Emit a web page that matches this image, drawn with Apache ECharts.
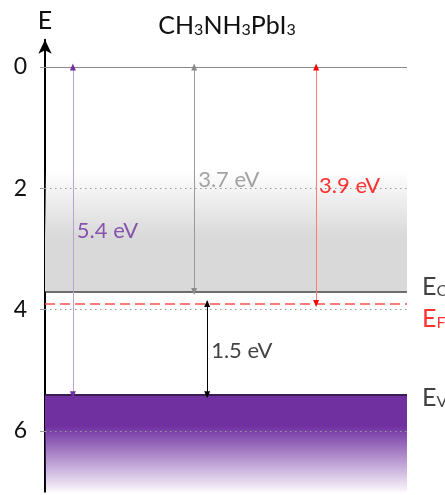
<!DOCTYPE html>
<html>
<head>
<meta charset="utf-8">
<script src="https://cdn.jsdelivr.net/npm/echarts@6/dist/echarts.min.js"></script>
<style>
  html, body { margin: 0; padding: 0; background: #fff; }
  #chart { width: 445px; height: 495px; }
</style>
</head>
<body>
<div id="chart"></div>
<script>
// Energy levels of CH3NH3PbI3 (eV below vacuum level, axis pointing up = 0)
const yTicks = [0, 2, 4, 6];
const levelNames = ['C', 'F', 'V'];          // subscripts of E_C, E_F, E_V
const levelEnergies = [3.7, 3.9, 5.4];       // conduction band, Fermi level, valence band
const vacuumLevel = 0;

// Double arrows: start and end energy (label = end - start)
const arrowFrom = [0, 0, 0, 3.9];
const arrowTo = [5.4, 3.7, 3.9, 5.4];

// Layout / styling for the arrows (horizontal position on a 0..100 scale)
const arrowX = [7.7, 41.2, 74.9, 44.8];
const arrowLineColor = ['#b9a2d3', '#9a9a9a', '#ff7a7a', '#000000'];
const arrowHeadColor = ['#7030a0', '#8a8a8a', '#ff0000', '#000000'];
const arrowLabelColor = ['#7030a0', '#8c8c8c', '#ff0000', '#111111'];
const arrowLabelPos = [[8.8, 2.70], [42.3, 1.86], [75.7, 1.96], [45.9, 4.68]];

const FONT = 'Lato';
const chart = echarts.init(document.getElementById('chart'), null, { renderer: 'canvas' });

const gapValue = (i) => (arrowTo[i] - arrowFrom[i]).toFixed(1) + ' eV';

const subRich = (color) => ({
  e: { fontFamily: FONT, fontWeight: 'normal', fontSize: 25, lineHeight: 25, color: color, verticalAlign: 'top' },
  s: { fontFamily: FONT, fontWeight: 'normal', fontSize: 16, lineHeight: 16, color: color, verticalAlign: 'bottom', padding: [11, 0, 0, 0] }
});

const levelColor = ['#404040', '#ff4d4d', '#3a1d52'];
const levelLabelColor = ['#111', '#ff0000', '#111'];
const levelLabelOffset = [[0, -5], [0, 15], [0, 3]];
const levelLineStyle = [
  { color: levelColor[0], width: 1.5, type: 'solid' },
  { color: levelColor[1], width: 1.6, type: [10, 5] },
  { color: levelColor[2], width: 2, type: 'solid' }
];

// Horizontal reference lines
const refLines = [{ yAxis: vacuumLevel, lineStyle: { color: '#8a8a8a', width: 1, type: 'solid' } }]
  .concat(yTicks.filter(v => v !== vacuumLevel).map(v => ({
    yAxis: v, lineStyle: { color: '#9a9a9a', width: 1.2, type: [1.5, 3.5] }
  })));

const levelLines = levelEnergies.map((v, i) => ({ yAxis: v, lineStyle: levelLineStyle[i] }));

// Arrow shafts (light) and arrow heads (darker)
const shafts = arrowX.map((x, i) => [
  { coord: [x, arrowFrom[i]], lineStyle: { color: arrowLineColor[i], width: 1, type: 'solid' } },
  { coord: [x, arrowTo[i]] }
]);
const heads = arrowX.map((x, i) => [
  { coord: [x, arrowFrom[i]], lineStyle: { color: arrowHeadColor[i], width: 0, type: 'solid' } },
  { coord: [x, arrowTo[i]] }
]);

const option = {
  animation: false,
  backgroundColor: '#fff',
  title: {
    text: '{m|CH}{s|3}{m|NH}{s|3}{m|PbI}{s|3}',
    left: 222,
    top: 8,
    textAlign: 'center',
    textStyle: {
      fontWeight: 'normal',
      rich: {
        m: { fontFamily: FONT, fontWeight: 'normal', fontSize: 25, lineHeight: 25, color: '#111', verticalAlign: 'top' },
        s: { fontFamily: FONT, fontWeight: 'normal', fontSize: 16, lineHeight: 16, color: '#111', verticalAlign: 'bottom', padding: [11, 0, 0, 0] }
      }
    }
  },
  grid: { left: 45, right: 38, top: 39.7, bottom: 3.3, containLabel: false },
  xAxis: {
    type: 'value', min: 0, max: 100, show: false
  },
  yAxis: {
    type: 'value',
    inverse: true,
    min: -0.45,
    max: 7,
    name: 'E',
    nameLocation: 'start',
    nameGap: 6,
    nameTextStyle: { fontFamily: FONT, fontSize: 25, color: '#111', align: 'center', verticalAlign: 'bottom' },
    axisLine: {
      show: true,
      lineStyle: { color: '#000', width: 2 },
      symbol: ['none', 'arrow'],
      symbolSize: [10, 14]
    },
    axisTick: { show: true, customValues: yTicks, length: 5, lineStyle: { color: '#9a9a9a' } },
    axisLabel: {
      customValues: yTicks, margin: 18,
      fontFamily: FONT, fontSize: 23, color: '#111'
    },
    splitLine: { show: false }
  },
  series: [
    {
      // Bands: conduction band (grey, fading upward) and valence band (purple, fading downward)
      type: 'line', data: [], silent: true, z: 1,
      markArea: {
        silent: true,
        data: [
          [
            {
              yAxis: 1.7,
              itemStyle: {
                color: new echarts.graphic.LinearGradient(0, 0, 0, 1, [
                  { offset: 0, color: 'rgba(217,217,217,0)' },
                  { offset: 0.55, color: 'rgba(217,217,217,1)' },
                  { offset: 1, color: 'rgba(217,217,217,1)' }
                ])
              }
            },
            { yAxis: levelEnergies[0] }
          ],
          [
            {
              yAxis: levelEnergies[2],
              itemStyle: {
                color: new echarts.graphic.LinearGradient(0, 0, 0, 1, [
                  { offset: 0, color: 'rgba(112,48,160,1)' },
                  { offset: 0.32, color: 'rgba(112,48,160,1)' },
                  { offset: 1, color: 'rgba(112,48,160,0.04)' }
                ])
              }
            },
            { yAxis: 7 }
          ]
        ]
      }
    },
    {
      type: 'line', data: [], silent: true, z: 2,
      markLine: {
        silent: true, symbol: 'none', animation: false,
        label: { show: false },
        data: refLines.concat(levelLines)
      }
    },
    {
      type: 'line', data: [], silent: true, z: 3,
      markLine: {
        silent: true, symbol: 'none', animation: false,
        lineStyle: { type: 'solid' },
        label: { show: false },
        data: shafts
      }
    },
    {
      type: 'line', data: [], silent: true, z: 4,
      markLine: {
        silent: true, symbol: ['triangle', 'triangle'], symbolSize: [6, 7], animation: false,
        lineStyle: { type: 'solid' },
        label: { show: false },
        data: heads
      }
    },
    {
      // Gap labels
      type: 'scatter', symbolSize: 0, silent: true, z: 5,
      data: arrowLabelPos.map((p, i) => ({
        value: p,
        label: {
          show: true, position: 'right', distance: 0,
          formatter: gapValue(i),
          fontFamily: FONT, fontSize: 22, color: arrowLabelColor[i]
        }
      }))
    },
    {
      // Level names at the right end of each level line
      type: 'scatter', symbolSize: 0, silent: true, z: 5,
      data: levelEnergies.map((v, i) => ({
        value: [100, v],
        label: {
          show: true, position: 'right', distance: 15,
          offset: levelLabelOffset[i],
          formatter: '{e|E}{s|' + levelNames[i] + '}',
          rich: subRich(levelLabelColor[i])
        }
      }))
    }
  ]
};

chart.setOption(option);
</script>
</body>
</html>
